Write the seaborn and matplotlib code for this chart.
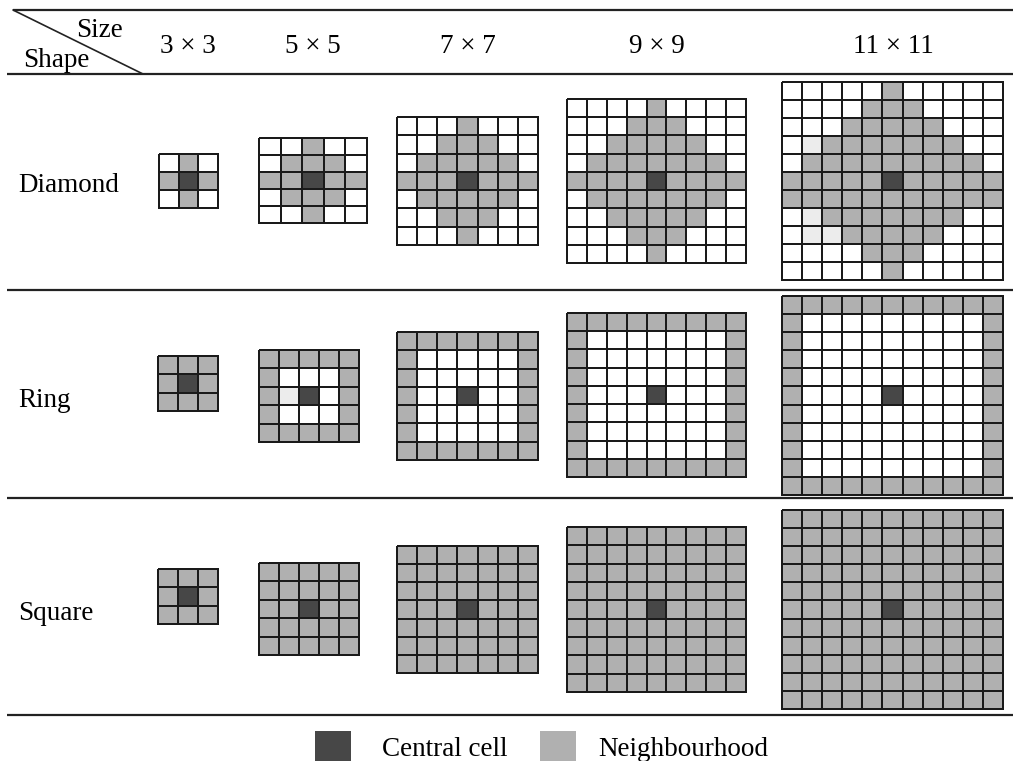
import numpy as np
import matplotlib
matplotlib.use("Agg")
import matplotlib.pyplot as plt
from matplotlib.colors import ListedColormap
from matplotlib.patches import Rectangle
import seaborn as sns

# cell codes: '.' empty, 'o' faint (scan artefact), '#' neighbourhood, 'X' central cell
SHAPES = ["Diamond", "Ring", "Square"]
SIZES = [3, 5, 7, 9, 11]
SIZE_LABELS = ["3 × 3", "5 × 5", "7 × 7", "9 × 9", "11 × 11"]
LEGEND_LABELS = ["Central cell", "Neighbourhood"]

DIAMOND_3 = [".#.",
             "#X#",
             ".#."]
DIAMOND_5 = ["..#..",
             ".###.",
             "##X##",
             ".###.",
             "..#.."]
DIAMOND_7 = ["...#...",
             "..###..",
             ".#####.",
             "###X###",
             ".#####.",
             "..###..",
             "...#..."]
DIAMOND_9 = ["....#....",
             "...###...",
             "..#####..",
             ".#######.",
             "####X####",
             ".#######.",
             "..#####..",
             "...###...",
             "....#...."]
DIAMOND_11 = [".....#.....",
              "....###....",
              "...#####...",
              ".o#######..",
              ".#########.",
              "#####X#####",
              "###########",
              ".o#######..",
              ".oo#####...",
              "....###....",
              ".....#....."]

RING_3 = ["###",
          "#X#",
          "###"]
RING_5 = ["#####",
          "#...#",
          "#oX.#",
          "#...#",
          "#####"]
RING_7 = ["#######",
          "#.....#",
          "#.....#",
          "#..X..#",
          "#.....#",
          "#.....#",
          "#######"]
RING_9 = ["#########",
          "#.......#",
          "#.......#",
          "#.......#",
          "#...X...#",
          "#.......#",
          "#.......#",
          "#.......#",
          "#########"]
RING_11 = ["###########",
           "#.........#",
           "#.........#",
           "#.........#",
           "#.........#",
           "#....X....#",
           "#.........#",
           "#.........#",
           "#.........#",
           "#.........#",
           "###########"]

SQUARE_3 = ["###",
            "#X#",
            "###"]
SQUARE_5 = ["#####",
            "#####",
            "##X##",
            "#####",
            "#####"]
SQUARE_7 = ["#######",
            "#######",
            "#######",
            "###X###",
            "#######",
            "#######",
            "#######"]
SQUARE_9 = ["#########",
            "#########",
            "#########",
            "#########",
            "####X####",
            "#########",
            "#########",
            "#########",
            "#########"]
SQUARE_11 = ["###########",
             "###########",
             "###########",
             "###########",
             "###########",
             "#####X#####",
             "###########",
             "###########",
             "###########",
             "###########",
             "###########"]

PATTERNS = {
    "Diamond": [DIAMOND_3, DIAMOND_5, DIAMOND_7, DIAMOND_9, DIAMOND_11],
    "Ring": [RING_3, RING_5, RING_7, RING_9, RING_11],
    "Square": [SQUARE_3, SQUARE_5, SQUARE_7, SQUARE_9, SQUARE_11],
}
CODES = {".": 0, "o": 1, "#": 2, "X": 3}

# ---- layout (pixels) ----
W, H = 1013, 761
WHITE, FAINT, GREY, DARK = "#ffffff", "#ececec", "#b0b0b0", "#474747"
LINE = "#1a1a1a"
FONT = "Liberation Serif"
FS = 19.5

# grid boxes: x0, x1, y0, y1
BOXES = {
    "Diamond": [(159, 218, 154, 208), (259, 367, 138, 223), (397, 538, 117, 245),
                (567, 746, 99, 263), (782, 1003, 82, 280)],
    "Ring": [(158, 218, 356, 411), (259, 359, 350, 442), (397, 538, 332, 460),
             (567, 746, 313, 477), (782, 1003, 296, 495)],
    "Square": [(158, 218, 569, 624), (259, 359, 563, 655), (397, 538, 546, 673),
               (567, 746, 527, 692), (782, 1003, 510, 709)],
}
COL_X = [188, 313, 468, 657, 893]
ROW_BASE = {"Diamond": 192, "Ring": 407, "Square": 620}

sns.set_theme(style="white")
plt.rcParams["font.family"] = [FONT, "DejaVu Serif"]
plt.rcParams["text.color"] = "black"

fig = plt.figure(figsize=(W / 100, H / 100), dpi=100)
fig.patch.set_facecolor("white")
ax = fig.add_axes([0, 0, 1, 1])
ax.set_xlim(0, W)
ax.set_ylim(H, 0)
ax.axis("off")

# table rules
for y, x0 in [(10, 13), (74, 7), (290, 7), (498, 7), (715, 7)]:
    ax.plot([x0, W], [y, y], color="#222222", lw=1.6, solid_capstyle="butt")
ax.plot([13, 143], [10, 74], color="#222222", lw=1.2)

ax.text(100, 37, "Size", ha="center", va="baseline", fontsize=FS)
ax.text(56, 67, "Shape", ha="center", va="baseline", fontsize=FS)
for x, lab in zip(COL_X, SIZE_LABELS):
    ax.text(x, 53, lab, ha="center", va="baseline", fontsize=FS)
for shape in SHAPES:
    ax.text(18, ROW_BASE[shape], shape, ha="left", va="baseline", fontsize=FS)

cmap = ListedColormap([WHITE, FAINT, GREY, DARK])
for shape in SHAPES:
    for size, rows, (x0, x1, y0, y1) in zip(SIZES, PATTERNS[shape], BOXES[shape]):
        mat = np.array([[CODES[c] for c in r] for r in rows])
        assert mat.shape == (size, size)
        gax = fig.add_axes([x0 / W, 1 - y1 / H, (x1 - x0) / W, (y1 - y0) / H])
        sns.heatmap(mat, ax=gax, cmap=cmap, vmin=-0.5, vmax=3.5, cbar=False,
                    linewidths=1.2, linecolor=LINE,
                    xticklabels=False, yticklabels=False)
        gax.collections[0].set_clip_on(False)
        gax.set_xlabel("")
        gax.set_ylabel("")

# legend
ax.add_patch(Rectangle((315, 731), 36, 40, facecolor=DARK, edgecolor="none"))
ax.text(382, 756, LEGEND_LABELS[0], ha="left", va="baseline", fontsize=FS)
ax.add_patch(Rectangle((540, 731), 36, 40, facecolor=GREY, edgecolor="none"))
ax.text(598, 756, LEGEND_LABELS[1], ha="left", va="baseline", fontsize=FS)

fig.savefig("out.png", dpi=100, facecolor="white")
